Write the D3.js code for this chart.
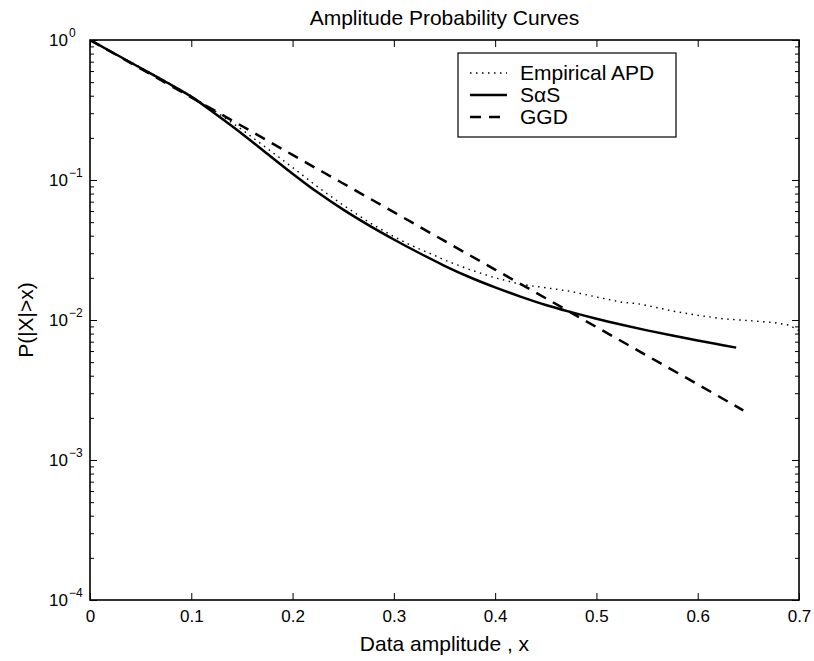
<!DOCTYPE html>
<html>
<head>
<meta charset="utf-8">
<script src="https://cdn.jsdelivr.net/npm/d3@7"></script>
<style>
    body { margin: 0; background: #fff; }
    text { font-family: "Liberation Sans", Arial, Helvetica, sans-serif; fill: #000; }
</style>
</head>
<body>
<svg id="canvas"></svg>
<script>
// values
const xTicks = [0, 0.1, 0.2, 0.3, 0.4, 0.5, 0.6, 0.7];
const yTicks = [1e-4, 1e-3, 1e-2, 1e-1, 1];
const yExp = ["\u22124", "\u22123", "\u22122", "\u22121", "0"];

const empX = [0, 0.025, 0.05, 0.075, 0.1, 0.125, 0.15, 0.175, 0.2, 0.225, 0.25, 0.275, 0.3, 0.315, 0.325, 0.34, 0.35, 0.375, 0.4, 0.425, 0.45, 0.475, 0.5, 0.525, 0.54, 0.55, 0.575, 0.6, 0.625, 0.65, 0.675, 0.69, 0.7];
const empP = [1, 0.794, 0.638, 0.507, 0.398, 0.305, 0.229, 0.168, 0.123, 0.0891, 0.0661, 0.0501, 0.0394, 0.0347, 0.0322, 0.0290, 0.0268, 0.0229, 0.0200, 0.0180, 0.0170, 0.0160, 0.0146, 0.0134, 0.0131, 0.0127, 0.0116, 0.0108, 0.0102, 0.0099, 0.0096, 0.0092, 0.0084];

const sasX = [0, 0.025, 0.05, 0.075, 0.1, 0.125, 0.15, 0.175, 0.2, 0.225, 0.25, 0.275, 0.3, 0.325, 0.35, 0.375, 0.4, 0.425, 0.45, 0.475, 0.5, 0.525, 0.55, 0.575, 0.6, 0.625, 0.638];
const sasP = [1, 0.794, 0.631, 0.501, 0.394, 0.292, 0.214, 0.154, 0.111, 0.0813, 0.0614, 0.0476, 0.0376, 0.0301, 0.0244, 0.0202, 0.0171, 0.0147, 0.0128, 0.01138, 0.01021, 0.00925, 0.00843, 0.00774, 0.00714, 0.00661, 0.00635];

const ggdX = [0, 0.05, 0.1, 0.15, 0.2, 0.25, 0.3, 0.35, 0.4, 0.45, 0.5, 0.55, 0.6, 0.645];
const ggdP = [1, 0.624, 0.389, 0.243, 0.151, 0.0944, 0.0589, 0.0367, 0.0229, 0.0143, 0.00891, 0.00556, 0.00347, 0.00226];

const seriesNames = ["Empirical APD", "S\u03b1S", "GGD"];

let width = 814;
let height = 661;
let padLeft = 90, padRight = 799, padTop = 40, padBottom = 600;

let canvas = d3.select('#canvas');
canvas.attr('width', width);
canvas.attr('height', height);

let xScale = d3.scaleLinear()
    .domain([0, 0.7])
    .range([padLeft, padRight]);
let yScale = d3.scaleLog()
    .domain([1e-4, 1])
    .range([padBottom, padTop]);

// minor ticks 2..9 in every decade
let minorTicks = [];
yTicks.slice(0, -1).forEach(t => {
    for (let k = 2; k < 10; k++) minorTicks.push(t * k);
});

let cleanAxis = g => {
    g.select('.domain').remove();
    g.selectAll('.tick line').attr('stroke', '#000').attr('stroke-width', 1);
};

// x axes, ticks point inward
canvas.append('g')
    .attr('transform', `translate(0,${padBottom})`)
    .call(d3.axisBottom(xScale).tickValues(xTicks).tickSize(-7).tickPadding(10).tickFormat(d => d))
    .call(cleanAxis)
    .attr('font-size', 17)
    .attr('font-family', '"Liberation Sans", Arial, sans-serif');

canvas.append('g')
    .attr('transform', `translate(0,${padTop})`)
    .call(d3.axisTop(xScale).tickValues(xTicks).tickSize(-7).tickFormat(''))
    .call(cleanAxis);

// y axes, majors and minors on both sides
canvas.append('g')
    .attr('transform', `translate(${padLeft},0)`)
    .call(d3.axisLeft(yScale).tickValues(yTicks).tickSize(-7).tickFormat(''))
    .call(cleanAxis);
canvas.append('g')
    .attr('transform', `translate(${padLeft},0)`)
    .call(d3.axisLeft(yScale).tickValues(minorTicks).tickSize(-4).tickFormat(''))
    .call(cleanAxis);
canvas.append('g')
    .attr('transform', `translate(${padRight},0)`)
    .call(d3.axisRight(yScale).tickValues(yTicks).tickSize(-7).tickFormat(''))
    .call(cleanAxis);
canvas.append('g')
    .attr('transform', `translate(${padRight},0)`)
    .call(d3.axisRight(yScale).tickValues(minorTicks).tickSize(-4).tickFormat(''))
    .call(cleanAxis);

// y tick labels as 10 with superscript
let yLab = canvas.append('g').attr('font-size', 17);
yTicks.forEach((t, i) => {
    yLab.append('text')
        .attr('x', 68)
        .attr('y', yScale(t) + 6)
        .attr('text-anchor', 'end')
        .text('10');
    yLab.append('text')
        .attr('x', 69)
        .attr('y', yScale(t) - 3)
        .attr('font-size', 12)
        .text(yExp[i]);
});

// curves
canvas.append('clipPath').attr('id', 'plotclip')
    .append('rect')
    .attr('x', padLeft).attr('y', padTop)
    .attr('width', padRight - padLeft).attr('height', padBottom - padTop);

let series = [
    { x: empX, p: empP, dash: '1.5,4.5', w: 1.4, curve: d3.curveLinear },
    { x: sasX, p: sasP, dash: null, w: 2.5, curve: d3.curveMonotoneX },
    { x: ggdX, p: ggdP, dash: '11,8', w: 2.5, curve: d3.curveMonotoneX }
];

series.forEach(s => {
    let line = d3.line()
        .x(d => xScale(d[0]))
        .y(d => yScale(d[1]))
        .curve(s.curve);
    canvas.append('path')
        .datum(s.x.map((v, i) => [v, s.p[i]]))
        .attr('d', line)
        .attr('fill', 'none')
        .attr('stroke', '#000')
        .attr('stroke-width', s.w)
        .attr('stroke-dasharray', s.dash)
        .attr('clip-path', 'url(#plotclip)');
});

// frame
canvas.append('rect')
    .attr('x', padLeft).attr('y', padTop)
    .attr('width', padRight - padLeft).attr('height', padBottom - padTop)
    .attr('fill', 'none')
    .attr('stroke', '#000')
    .attr('stroke-width', 1.6);

// legend
let legend = canvas.append('g');
legend.append('rect')
    .attr('x', 458).attr('y', 53)
    .attr('width', 218).attr('height', 84)
    .attr('fill', '#fff')
    .attr('stroke', '#000')
    .attr('stroke-width', 1.2);
let legY = [73, 95, 117];
series.forEach((s, i) => {
    legend.append('line')
        .attr('x1', 470).attr('x2', 507)
        .attr('y1', legY[i]).attr('y2', legY[i])
        .attr('stroke', '#000')
        .attr('stroke-width', s.w)
        .attr('stroke-dasharray', s.dash);
    legend.append('text')
        .attr('x', 520)
        .attr('y', legY[i] + 7)
        .attr('font-size', 21)
        .text(seriesNames[i]);
});

// titles
canvas.append('text')
    .attr('x', (padLeft + padRight) / 2)
    .attr('y', 25)
    .attr('text-anchor', 'middle')
    .attr('font-size', 21)
    .text('Amplitude Probability Curves');

canvas.append('text')
    .attr('x', (padLeft + padRight) / 2)
    .attr('y', 651)
    .attr('text-anchor', 'middle')
    .attr('font-size', 21)
    .text('Data amplitude , x');

canvas.append('text')
    .attr('transform', `translate(33,${(padTop + padBottom) / 2}) rotate(-90)`)
    .attr('text-anchor', 'middle')
    .attr('font-size', 21)
    .text('P(|X|>x)');
</script>
</body>
</html>
